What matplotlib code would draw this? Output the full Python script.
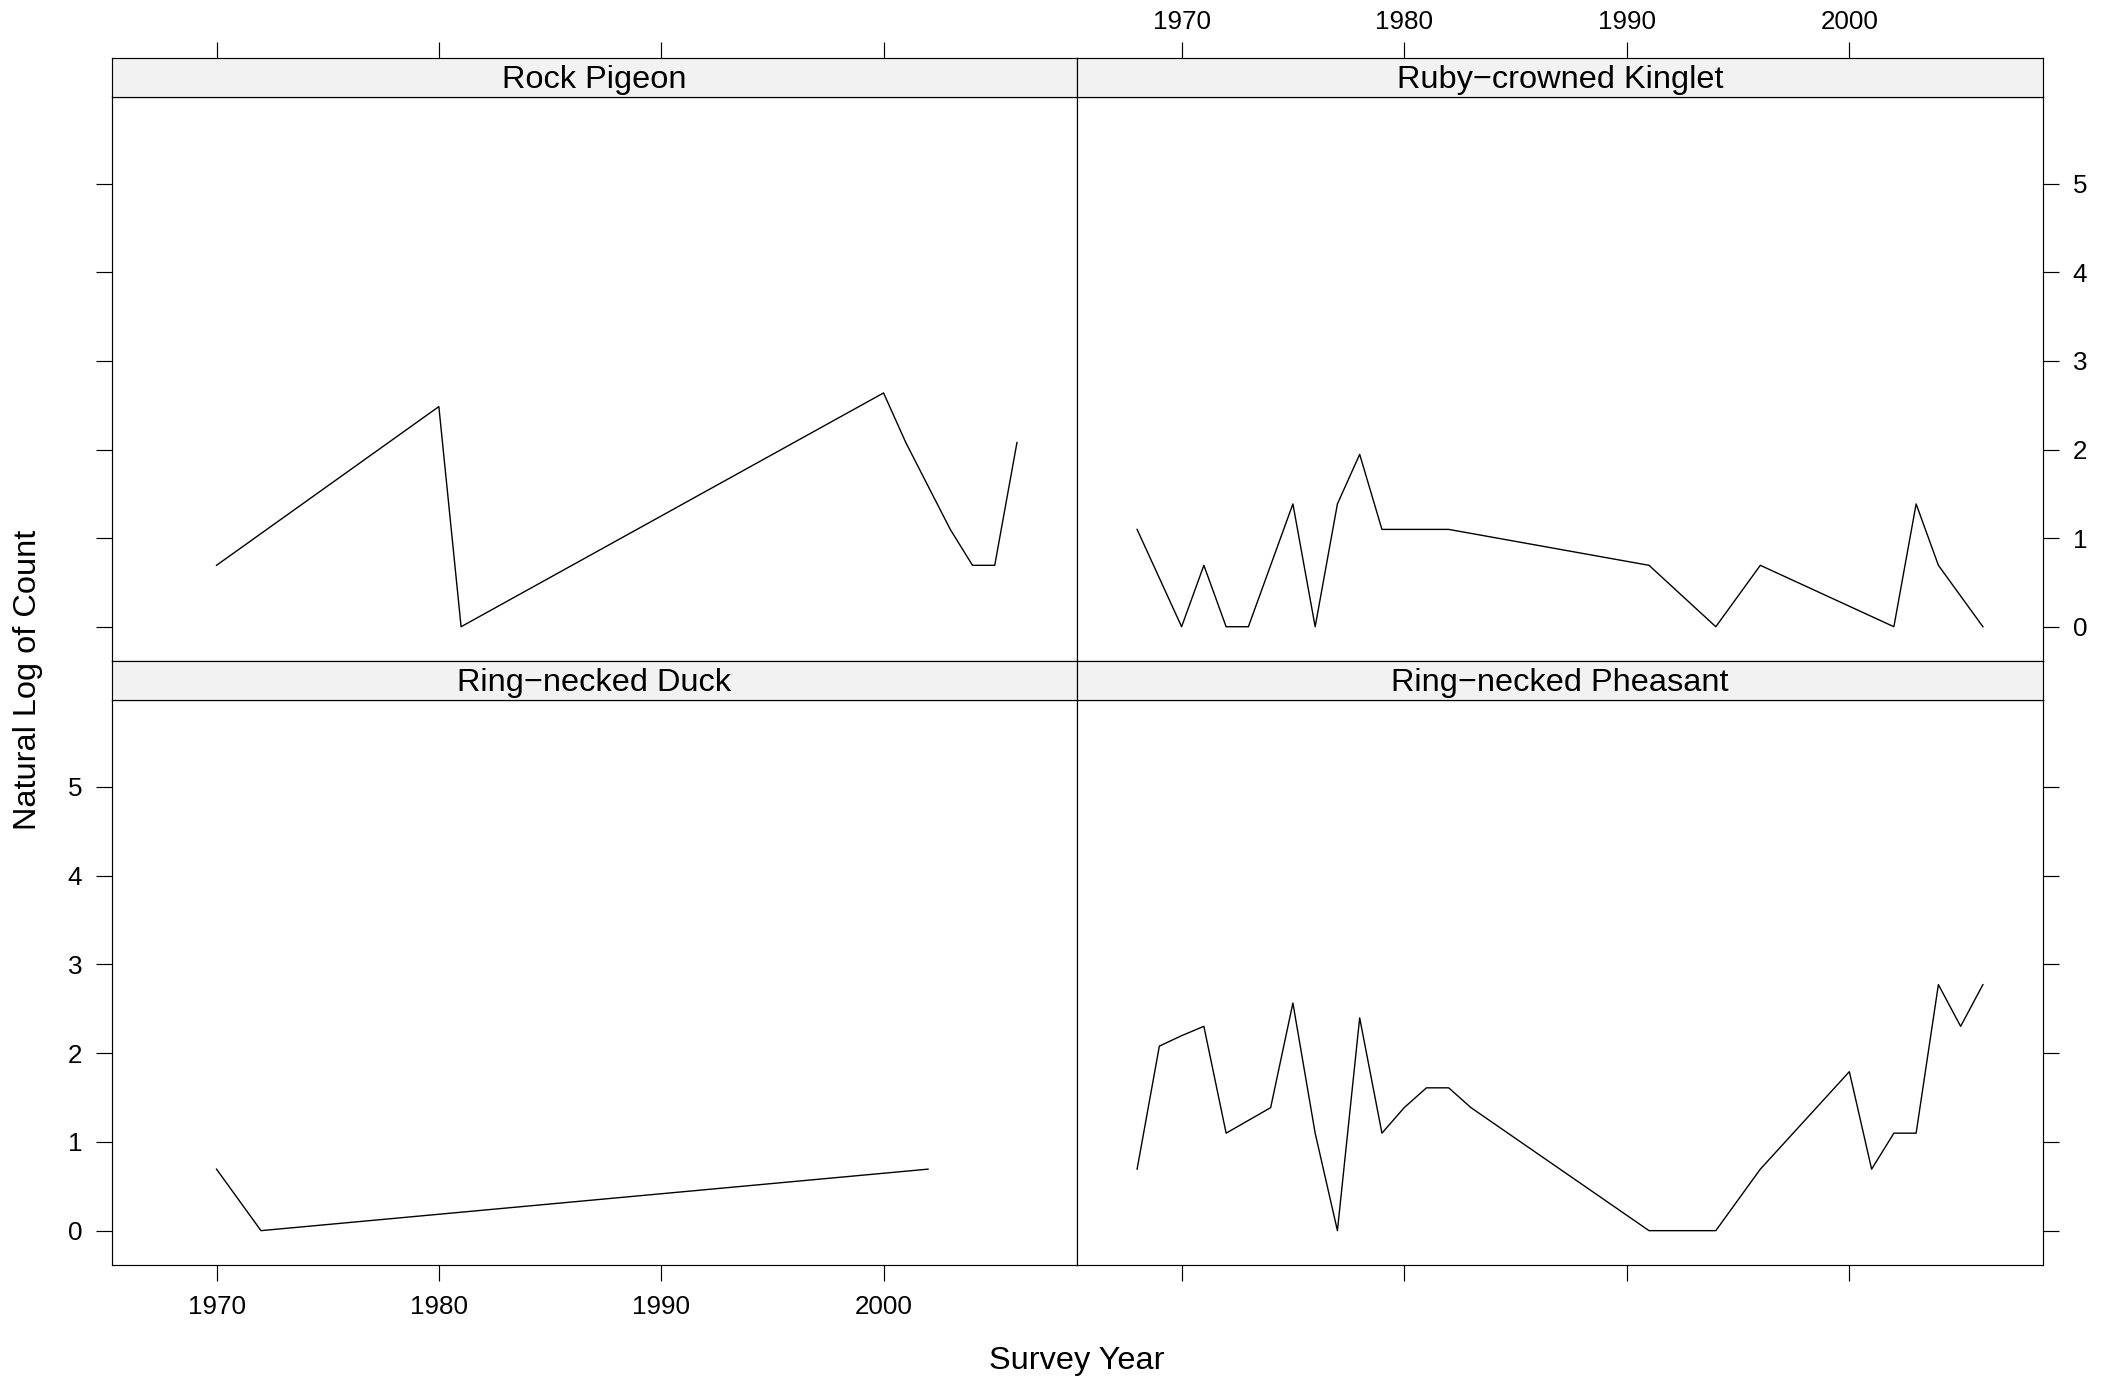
import numpy as np
import matplotlib
matplotlib.use("Agg")
import matplotlib.pyplot as plt

plt.rcParams["font.family"] = ["Liberation Sans", "DejaVu Sans"]

# ---- data (counts; plotted as natural log) ----
species = ["Rock Pigeon", "Ruby\u2212crowned Kinglet",
           "Ring\u2212necked Duck", "Ring\u2212necked Pheasant"]

rock_pigeon_years = [1970, 1980, 1981, 2000, 2001, 2003, 2004, 2005, 2006]
rock_pigeon_counts = [2, 12, 1, 14, 8, 3, 2, 2, 8]

kinglet_years = [1968, 1970, 1971, 1972, 1973, 1975, 1976, 1977, 1978, 1979,
                 1982, 1991, 1994, 1996, 2002, 2003, 2004, 2006]
kinglet_counts = [3, 1, 2, 1, 1, 4, 1, 4, 7, 3, 3, 2, 1, 2, 1, 4, 2, 1]

duck_years = [1970, 1972, 2002]
duck_counts = [2, 1, 2]

pheasant_years = [1968, 1969, 1970, 1971, 1972, 1974, 1975, 1976, 1977, 1978,
                  1979, 1980, 1981, 1982, 1983, 1991, 1994, 1996, 2000, 2001,
                  2002, 2003, 2004, 2005, 2006]
pheasant_counts = [2, 8, 9, 10, 3, 4, 13, 3, 1, 11, 3, 4, 5, 5, 4, 1, 1, 2, 6,
                   2, 3, 3, 16, 10, 16]

x_ticks = [1970, 1980, 1990, 2000]
y_ticks = [0, 1, 2, 3, 4, 5]

series = [(rock_pigeon_years, rock_pigeon_counts),
          (kinglet_years, kinglet_counts),
          (duck_years, duck_counts),
          (pheasant_years, pheasant_counts)]

# ---- layout ----
W, H = 2114, 1378
fig = plt.figure(figsize=(W / 100, H / 100), dpi=100)


def rect(x0, y0, x1, y1):
    return [x0 / W, 1 - y1 / H, (x1 - x0) / W, (y1 - y0) / H]


XL, XM, XR = 112, 1077, 2043
strip_rows = [(58, 97, 661), (661, 700, 1265)]
cols = [(XL, XM), (XM, XR)]

XLIM = (1965.3, 2008.7)
YLIM = (-0.387, 5.98)
TICK_FS = 18.7
LAB_FS = 23.4
LW = 0.85
TLEN = 11.5
STRIP_BG = "#F2F2F2"

for idx, (yrs, cnts) in enumerate(series):
    r, c = divmod(idx, 2)
    s0, s1, p1 = strip_rows[r]
    x0, x1 = cols[c]
    ax = fig.add_axes(rect(x0, s1, x1, p1))
    sx = fig.add_axes(rect(x0, s0, x1, s1))
    ax.plot(yrs, np.log(cnts), color="black", lw=1.0)
    ax.set_xlim(*XLIM)
    ax.set_ylim(*YLIM)
    sx.set_xlim(*XLIM)
    sx.set_ylim(0, 1)
    sx.set_facecolor(STRIP_BG)
    sx.text(0.5, 0.22, species[idx], transform=sx.transAxes, ha="center",
            va="baseline", fontsize=LAB_FS)
    for a in (ax, sx):
        for sp in a.spines.values():
            sp.set_linewidth(LW)
    ax.set_xticks(x_ticks)
    ax.set_yticks(y_ticks)
    sx.set_xticks(x_ticks)
    sx.set_yticks([])
    common = dict(direction="out", length=TLEN, width=LW, labelsize=TICK_FS,
                  pad=10)
    ax.tick_params(axis="x", top=False, labeltop=False,
                   bottom=(r == 1), labelbottom=(r == 1 and c == 0), **common)
    ax.tick_params(axis="y", left=(c == 0), labelleft=(r == 1 and c == 0),
                   right=(c == 1), labelright=(r == 0 and c == 1), **common)
    top_common = dict(common)
    top_common["pad"] = 6
    sx.tick_params(axis="x", bottom=False, labelbottom=False,
                   top=(r == 0), labeltop=(r == 0 and c == 1), **top_common)
    sx.tick_params(axis="y", left=False, right=False, labelleft=False,
                   labelright=False)

fig.text(1077 / W, 1 - 1361 / H, "Survey Year", ha="center", va="center",
         fontsize=LAB_FS)
fig.text(28 / W, 1 - 680 / H, "Natural Log of Count", ha="center",
         va="center", rotation=90, fontsize=LAB_FS)

fig.savefig("out.png", dpi=100, facecolor="white")
